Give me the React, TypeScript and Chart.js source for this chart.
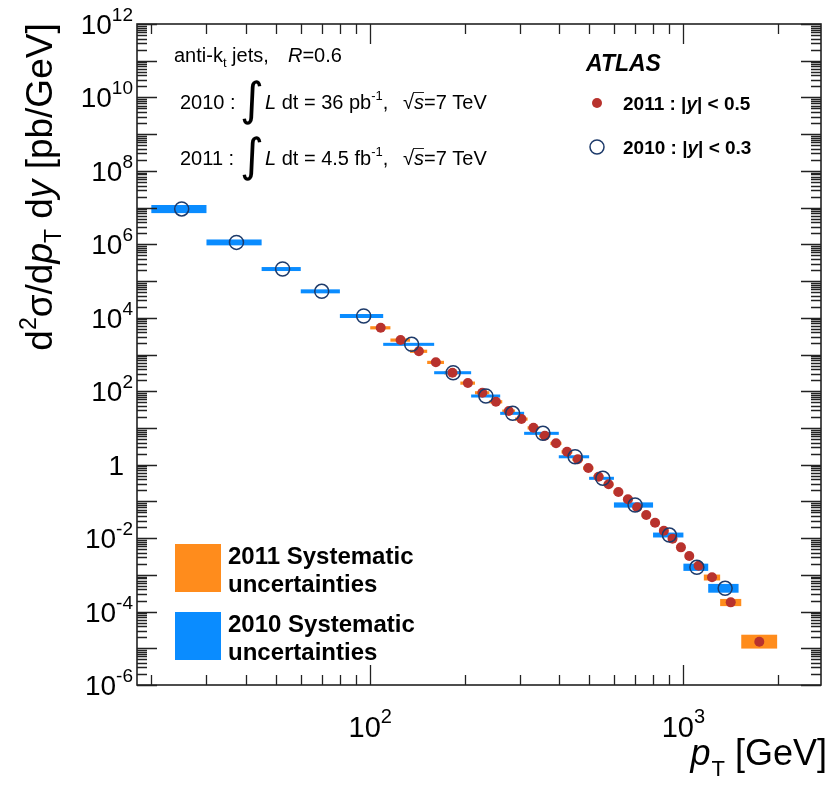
import React, { useEffect, useRef } from "react";
import { Chart, registerables } from "chart.js";
Chart.register(...registerables);

// ---------------- data ----------------
const bins2011 = [100, 116, 134, 152, 172, 194, 216, 240, 264, 290, 318, 346, 376, 408, 442, 478, 516, 556, 598, 642, 688, 736, 786, 838, 894, 952, 1012, 1076, 1162, 1310, 1530, 1992];
const pt2011 = [108, 125, 143, 162, 183, 205, 228, 252, 277, 304, 332, 361, 392, 425, 460, 497, 536, 577, 620, 665, 712, 761, 812, 866, 923, 982, 1044, 1118, 1234, 1416, 1747];
const xsec2011 = [5.36e3, 2.48e3, 1.23e3, 612, 319, 167, 91, 51.8, 28.9, 17.5, 10.1, 6.14, 3.81, 2.25, 1.4, 0.81, 0.47, 0.292, 0.18, 0.114, 0.0689, 0.0426, 0.0262, 0.0159, 9.6e-3, 5.6e-3, 3.25e-3, 1.77e-3, 8.55e-4, 1.78e-4, 1.51e-5];
const sysUp2011 = [10, 10, 10, 10, 10, 10, 10, 10, 10, 10, 10, 10, 10, 10, 10, 10, 11, 11, 11, 12, 12, 12, 13, 13, 14, 14, 15, 16, 19, 24, 55];
const sysDn2011 = [10, 10, 10, 10, 10, 10, 10, 10, 10, 10, 10, 10, 10, 10, 10, 10, 11, 11, 11, 12, 12, 12, 13, 13, 14, 14, 15, 16, 18, 21, 35];

const bins2010 = [20, 30, 45, 60, 80, 110, 160, 210, 260, 310, 400, 500, 600, 800, 1000, 1200, 1500];
const pt2010 = [25, 37.4, 52.5, 70, 95.3, 135.6, 184, 234, 285, 356, 451, 553, 701, 902, 1104, 1359];
const xsec2010 = [9.2e6, 1.13e6, 2.13e5, 5.26e4, 1.12e4, 1.89e3, 319, 74, 25, 7.13, 1.64, 0.425, 0.0796, 0.0121, 1.6e-3, 4.29e-4];
const sysUp2010 = [28, 20, 13, 13, 13, 10, 10, 10, 10, 10, 10, 10, 18, 17, 26, 32];
const sysDn2010 = [23, 17, 12, 12, 12, 9, 9, 9, 9, 9, 9, 9, 15, 14, 20, 24];

const xMin = 18;
const xMax = 2750;
const yMin = 1e-6;
const yMax = 1e12;
const xLabelExps = [2, 3];
const yLabelExps = [12, 10, 8, 6, 4, 2, 0, -2, -4, -6];

const RED = "#b8322d";
const ORANGE = "#ff8c1c";
const BLUE = "#0a8cff";
const NAVY = "#1d3a6a";
const FONT = "'Liberation Sans', Arial, Helvetica, sans-serif";

type Part = { t: string; size: number; weight?: string; style?: string; dy?: number; dx?: number; family?: string };
const fontOf = (p: Part) => `${p.style || "normal"} ${p.weight || "normal"} ${p.size}px ${p.family || FONT}`;

function drawParts(ctx: CanvasRenderingContext2D, parts: Part[], x: number, y: number, align: "left" | "right" | "center" = "left") {
  ctx.textBaseline = "alphabetic";
  ctx.textAlign = "left";
  const widths = parts.map((p) => {
    ctx.font = fontOf(p);
    return ctx.measureText(p.t).width + (p.dx || 0);
  });
  const total = widths.reduce((a, b) => a + b, 0);
  let cx = align === "right" ? x - total : align === "center" ? x - total / 2 : x;
  const starts: number[] = [];
  parts.forEach((p, i) => {
    ctx.font = fontOf(p);
    starts.push(cx + (p.dx || 0));
    ctx.fillText(p.t, cx + (p.dx || 0), y + (p.dy || 0));
    cx += widths[i];
  });
  return { total, starts, widths, end: cx };
}

const boxesPlugin = {
  id: "sysBoxes",
  beforeDatasetsDraw(chart: any) {
    const { ctx, chartArea } = chart;
    const xs = chart.scales.x;
    const ys = chart.scales.y;
    ctx.save();
    ctx.beginPath();
    ctx.rect(chartArea.left, chartArea.top, chartArea.right - chartArea.left, chartArea.bottom - chartArea.top);
    ctx.clip();
    const draw = (bins: number[], vals: number[], up: number[], dn: number[], color: string) => {
      ctx.fillStyle = color;
      vals.forEach((v, i) => {
        const x1 = xs.getPixelForValue(bins[i]);
        const x2 = xs.getPixelForValue(bins[i + 1]);
        const y1 = ys.getPixelForValue(v * (1 + up[i] / 100));
        const y2 = ys.getPixelForValue(v * (1 - dn[i] / 100));
        ctx.fillRect(x1, y1, x2 - x1, y2 - y1);
      });
    };
    draw(bins2011, xsec2011, sysUp2011, sysDn2011, ORANGE);
    draw(bins2010, xsec2010, sysUp2010, sysDn2010, BLUE);
    ctx.restore();
  },
};

const framePlugin = {
  id: "rootFrame",
  afterDraw(chart: any) {
    const { ctx, chartArea } = chart;
    const { left, right, top, bottom } = chartArea;
    const xs = chart.scales.x;
    const ys = chart.scales.y;
    ctx.save();
    ctx.strokeStyle = "#222";
    ctx.lineWidth = 1.3;
    // y ticks
    for (let e = -6; e <= 12; e++) {
      for (let m = 1; m <= 9; m++) {
        const v = m * Math.pow(10, e);
        if (v < yMin * 0.999 || v > yMax * 1.001) continue;
        const py = Math.round(ys.getPixelForValue(v)) + 0.5;
        const len = m === 1 ? 20 : 10;
        ctx.beginPath();
        ctx.moveTo(left, py);
        ctx.lineTo(left + len, py);
        ctx.moveTo(right, py);
        ctx.lineTo(right - len, py);
        ctx.stroke();
      }
    }
    // x ticks
    for (let e = 1; e <= 3; e++) {
      for (let m = 1; m <= 9; m++) {
        const v = m * Math.pow(10, e);
        if (v < xMin || v > xMax) continue;
        const px = Math.round(xs.getPixelForValue(v)) + 0.5;
        const len = m === 1 ? 20 : 10;
        ctx.beginPath();
        ctx.moveTo(px, bottom);
        ctx.lineTo(px, bottom - len);
        ctx.moveTo(px, top);
        ctx.lineTo(px, top + len);
        ctx.stroke();
      }
    }
    ctx.lineWidth = 1.6;
    ctx.strokeRect(left, top, right - left, bottom - top);

    ctx.fillStyle = "#000";
    // y tick labels
    yLabelExps.forEach((e) => {
      const py = ys.getPixelForValue(Math.pow(10, e));
      if (e === 0) drawParts(ctx, [{ t: "1", size: 28 }], 124, py + 10, "right");
      else drawParts(ctx, [{ t: "10", size: 28 }, { t: String(e), size: 19, dy: -13 }], 133, py + 10, "right");
    });
    // x tick labels
    xLabelExps.forEach((e) => {
      const px = xs.getPixelForValue(Math.pow(10, e));
      drawParts(ctx, [{ t: "10", size: 29 }, { t: String(e), size: 20, dy: -14 }], px, 737, "center");
    });
    // x title
    drawParts(ctx, [{ t: "p", size: 36, style: "italic" }, { t: "T", size: 22, dy: 11, dx: 1 }, { t: " [GeV]", size: 36 }], 827, 765, "right");
    // y title
    ctx.save();
    ctx.translate(52, 187);
    ctx.rotate(-Math.PI / 2);
    drawParts(
      ctx,
      [
        { t: "d", size: 37 },
        { t: "2", size: 23, dy: -16 },
        { t: "σ/d", size: 37 },
        { t: "p", size: 37, style: "italic" },
        { t: "T", size: 23, dy: 9 },
        { t: " d", size: 37 },
        { t: "y", size: 37, style: "italic" },
        { t: " [pb/GeV]", size: 37 },
      ],
      0,
      0,
      "center"
    );
    ctx.restore();

    // top-left annotations
    drawParts(ctx, [{ t: "anti-k", size: 20 }, { t: "t", size: 13, dy: 5 }, { t: " jets,", size: 20 }], 174, 62);
    drawParts(ctx, [{ t: "R", size: 20, style: "italic" }, { t: "=0.6", size: 20 }], 288, 62);
    const lumiLine = (year: string, lumi: string, unit: string, y: number) => {
      drawParts(ctx, [{ t: year + " :", size: 20 }], 180, y);
      drawParts(ctx, [{ t: "∫", size: 46, family: "'DejaVu Sans', sans-serif", weight: "normal" }], 240, y + 6);
      const r = drawParts(
        ctx,
        [
          { t: "L", size: 20, style: "italic" },
          { t: " dt = " + lumi + " " + unit, size: 20 },
          { t: "-1", size: 13, dy: -9 },
          { t: ",", size: 20 },
        ],
        265,
        y
      );
      const s = drawParts(ctx, [{ t: "√", size: 20 }, { t: "s", size: 20, style: "italic" }, { t: "=7 TeV", size: 20 }], 403, y);
      ctx.lineWidth = 1;
      ctx.beginPath();
      ctx.moveTo(s.starts[1] - 1, y - 16.5);
      ctx.lineTo(s.starts[1] + s.widths[1], y - 16.5);
      ctx.stroke();
      return r;
    };
    lumiLine("2010", "36", "pb", 109);
    lumiLine("2011", "4.5", "fb", 165);

    // top-right legend
    drawParts(ctx, [{ t: "ATLAS", size: 23, weight: "bold", style: "italic" }], 586, 71);
    ctx.fillStyle = RED;
    ctx.beginPath();
    ctx.arc(597, 103, 5, 0, Math.PI * 2);
    ctx.fill();
    ctx.strokeStyle = NAVY;
    ctx.lineWidth = 1.5;
    ctx.beginPath();
    ctx.arc(597, 147, 7, 0, Math.PI * 2);
    ctx.stroke();
    ctx.fillStyle = "#000";
    drawParts(ctx, [{ t: "2011 : |", size: 19, weight: "bold" }, { t: "y", size: 19, weight: "bold", style: "italic" }, { t: "| < 0.5", size: 19, weight: "bold" }], 623, 110);
    drawParts(ctx, [{ t: "2010 : |", size: 19, weight: "bold" }, { t: "y", size: 19, weight: "bold", style: "italic" }, { t: "| < 0.3", size: 19, weight: "bold" }], 623, 154);

    // bottom-left legend
    ctx.fillStyle = ORANGE;
    ctx.fillRect(175, 544, 46, 48);
    ctx.fillStyle = BLUE;
    ctx.fillRect(175, 612, 46, 48);
    ctx.fillStyle = "#000";
    drawParts(ctx, [{ t: "2011 Systematic", size: 24, weight: "bold" }], 228, 564);
    drawParts(ctx, [{ t: "uncertainties", size: 24, weight: "bold" }], 228, 592);
    drawParts(ctx, [{ t: "2010 Systematic", size: 24, weight: "bold" }], 228, 632);
    drawParts(ctx, [{ t: "uncertainties", size: 24, weight: "bold" }], 228, 660);
    ctx.restore();
  },
};

export default function App() {
  const ref = useRef<HTMLCanvasElement | null>(null);
  useEffect(() => {
    if (!ref.current) return;
    const chart = new Chart(ref.current, {
      type: "scatter",
      data: {
        datasets: [
          {
            label: "2010 : |y| < 0.3",
            data: pt2010.map((x, i) => ({ x, y: xsec2010[i] })),
            pointRadius: 7,
            pointBorderWidth: 1.5,
            pointBackgroundColor: "rgba(0,0,0,0)",
            pointBorderColor: NAVY,
            order: 0,
          },
          {
            label: "2011 : |y| < 0.5",
            data: pt2011.map((x, i) => ({ x, y: xsec2011[i] })),
            pointRadius: 5,
            pointBorderWidth: 0,
            pointBackgroundColor: RED,
            pointBorderColor: RED,
            order: 1,
          },
        ],
      },
      options: {
        responsive: false,
        animation: false,
        devicePixelRatio: 1,
        layout: { padding: { left: 137, right: 10, top: 24, bottom: 102 } },
        plugins: { legend: { display: false }, tooltip: { enabled: false } },
        scales: {
          x: { type: "logarithmic", min: xMin, max: xMax, display: false },
          y: { type: "logarithmic", min: yMin, max: yMax, display: false },
        },
      },
      plugins: [boxesPlugin, framePlugin],
    });
    return () => chart.destroy();
  }, []);
  return (
    <div style={{ position: "absolute", left: 0, top: 0, width: 831, height: 787, background: "#fff" }}>
      <canvas ref={ref} width={831} height={787} style={{ display: "block" }} />
    </div>
  );
}
